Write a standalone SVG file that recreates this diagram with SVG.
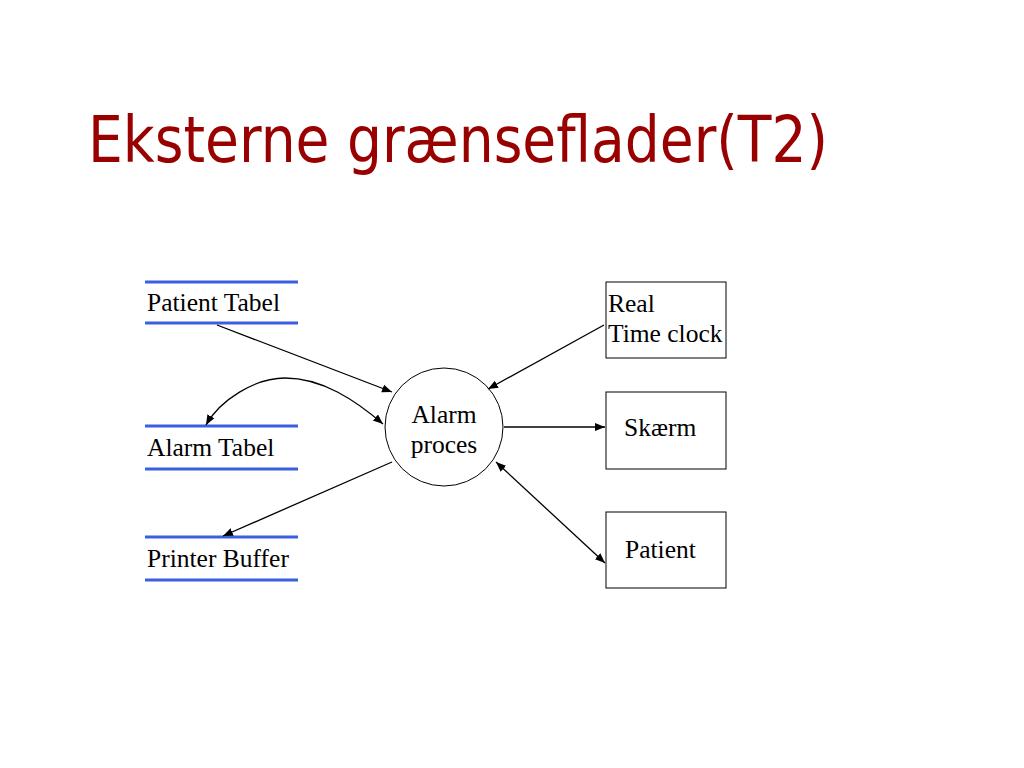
<svg xmlns="http://www.w3.org/2000/svg" width="1024" height="768" viewBox="0 0 1024 768">
<style>
.title{font-family:"DejaVu Sans",Verdana,sans-serif;font-size:64px;fill:#990000}
.lbl{font-family:"Liberation Serif","Times New Roman",serif;font-size:25.5px;fill:#000}
.store{stroke:#3a5fe0;stroke-width:3}
.box{fill:#fff;stroke:#000;stroke-width:1}
.conn{fill:none;stroke:#000;stroke-width:1.3}
</style>
<defs>
<marker id="ah" viewBox="0 0 10 10" refX="10" refY="5" markerWidth="10" markerHeight="10" markerUnits="userSpaceOnUse" orient="auto-start-reverse">
<path d="M0,1 L10,5 L0,9 z" fill="#000"/>
</marker>
</defs>
<rect width="1024" height="768" fill="#fff"/>
<text class="title" x="88" y="162" textLength="740" lengthAdjust="spacingAndGlyphs">Eksterne grænseflader(T2)</text>

<g id="patient-tabel">
<line class="store" x1="145" y1="282" x2="298" y2="282"/>
<line class="store" x1="145" y1="323" x2="298" y2="323"/>
<text class="lbl" x="147" y="311">Patient Tabel</text>
</g>
<g id="alarm-tabel">
<line class="store" x1="145" y1="426" x2="298" y2="426"/>
<line class="store" x1="145" y1="469" x2="298" y2="469"/>
<text class="lbl" x="147" y="456">Alarm Tabel</text>
</g>
<g id="printer-buffer">
<line class="store" x1="145" y1="537" x2="298" y2="537"/>
<line class="store" x1="145" y1="580" x2="298" y2="580"/>
<text class="lbl" x="147" y="567">Printer Buffer</text>
</g>
<g id="alarm-proces">
<circle cx="444" cy="427" r="59" fill="#fff" stroke="#000" stroke-width="1"/>
<text class="lbl" x="444" y="423" text-anchor="middle">Alarm</text>
<text class="lbl" x="444" y="453" text-anchor="middle">proces</text>
</g>
<g id="real-time-clock">
<rect class="box" x="606" y="282" width="120" height="76"/>
<text class="lbl" x="608" y="312">Real</text>
<text class="lbl" x="608" y="342">Time clock</text>
</g>
<g id="skaerm">
<rect class="box" x="606" y="392" width="120" height="77"/>
<text class="lbl" x="624" y="436">Skærm</text>
</g>
<g id="patient">
<rect class="box" x="606" y="512" width="120" height="76"/>
<text class="lbl" x="625" y="558">Patient</text>
</g>

<g id="connectors">
<line class="conn" x1="217" y1="325" x2="392" y2="392" marker-end="url(#ah)"/>
<path class="conn" d="M206,425 C220,400 255,378 285,378 C322,378 355,400 383,424" marker-start="url(#ah)" marker-end="url(#ah)"/>
<line class="conn" x1="392" y1="462" x2="223" y2="536" marker-end="url(#ah)"/>
<line class="conn" x1="604" y1="325" x2="488" y2="389" marker-end="url(#ah)"/>
<line class="conn" x1="504" y1="427" x2="605" y2="427" marker-end="url(#ah)"/>
<line class="conn" x1="496" y1="462" x2="605" y2="563" marker-start="url(#ah)" marker-end="url(#ah)"/>
</g>
</svg>
